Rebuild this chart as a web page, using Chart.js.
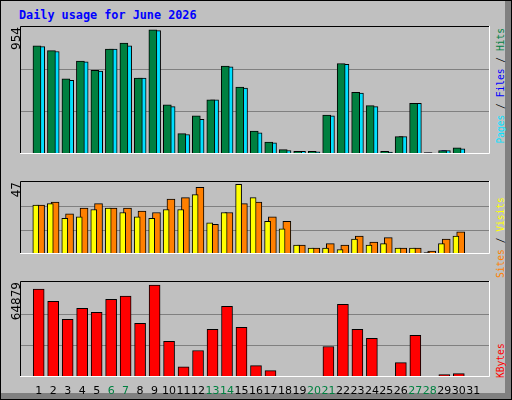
<!DOCTYPE html>
<html><head><meta charset="utf-8">
<script src="https://cdn.jsdelivr.net/npm/chart.js@4"></script>
<style>
html,body{margin:0;padding:0;}
#frame{position:relative;width:510px;height:398px;background:#C0C0C0;border:1px solid #000;overflow:hidden;}
#rb{position:absolute;right:0;top:0;width:6px;height:100%;background:#808080;}
#bb{position:absolute;left:0;bottom:0;height:6px;width:100%;background:#808080;}
canvas{position:absolute;}
.t{position:absolute;font-family:"DejaVu Sans Mono",monospace;}
.rot{position:absolute;transform:rotate(-90deg);transform-origin:left top;height:13px;line-height:13px;white-space:nowrap;}
</style></head><body>
<div id="frame">
<div id="rb"></div><div id="bb"></div>
<div class="t" style="left:18px;top:7px;font-size:11.8px;font-weight:bold;color:#0000FF;">Daily usage for June 2026</div>
<canvas id="c1" width="470" height="152" style="left:19px;top:25px"></canvas>
<canvas id="c2" width="470" height="97" style="left:19px;top:180px"></canvas>
<canvas id="c3" width="470" height="120" style="left:19px;top:280px"></canvas>
<div class="rot" style="left:8px;top:176px;width:150px;text-align:right;font:12px 'DejaVu Sans';">954</div>
<div class="rot" style="left:8px;top:276px;width:95px;text-align:right;font:12px 'DejaVu Sans';">47</div>
<div class="rot" style="left:8px;top:376px;width:95px;text-align:right;font:12px 'DejaVu Sans';">64879</div>
<div class="rot" style="left:494px;top:176px;width:149px;text-align:right;font:9.6px 'DejaVu Sans Mono';"><span style="color:#00E0FF">Pages</span> / <span style="color:#0000FF">Files</span> / <span style="color:#008040">Hits</span></div>
<div class="rot" style="left:494px;top:277px;width:95px;font:9.6px 'DejaVu Sans Mono';"><span style="color:#FF8000">Sites</span> / <span style="color:#FFFF00">Visits</span></div>
<div class="rot" style="left:494px;top:377px;width:95px;font:9.6px 'DejaVu Sans Mono';"><span style="color:#FF0000">KBytes</span></div>
</div>
<script>
const days = Array.from({length:31},(_, i)=>String(i+1));
const weekend = ["6","7","13","14","20","21","27","28"];
const hits  = [831,794,578,714,643,805,852,584,954,377,157,293,416,675,513,176,92,34,21,21,299,695,474,371,21,133,390,10,27,47,0];
const files = [824,787,565,707,636,805,831,584,947,364,150,267,416,669,507,163,86,27,21,16,293,688,468,364,14,133,390,8,27,40,0];
const pages = [794,760,545,690,620,780,805,565,920,350,145,255,405,650,490,155,80,25,18,14,285,670,455,350,12,128,380,6,24,37,0];
const visits= [33,34,24,25,30,31,28,25,24,30,30,40,21,28,47,38,22,17,6,4,4,3,10,6,7,4,4,1,7,12,0];
const sites = [33,35,27,31,34,31,31,29,28,37,38,45,20,28,34,35,25,22,6,4,7,6,12,8,11,4,4,2,10,15,0];
const kbytes= [62040,53510,40730,48540,45700,54930,57060,37880,64879,25100,7100,18700,33620,49960,35040,8050,4500,300,300,300,21550,51380,33620,27230,300,10180,29360,300,1650,2370,0];

const pts=(arr,off)=>arr.map((v,i)=>({x:i+1+off,y:v}));
const bevel={id:'bevel',afterDraw(c){const a=c.chartArea,x=c.ctx;x.save();x.lineWidth=1;
 x.strokeStyle='#000';x.beginPath();x.moveTo(a.left+0.5,a.bottom);x.lineTo(a.left+0.5,a.top+0.5);x.lineTo(a.right,a.top+0.5);x.stroke();
 x.strokeStyle='#fff';x.beginPath();x.moveTo(a.right-0.5,a.top);x.lineTo(a.right-0.5,a.bottom-0.5);x.lineTo(a.left,a.bottom-0.5);x.stroke();x.restore();}};
function mk(id,datasets,ymax,g,showX){
 return new Chart(document.getElementById(id),{type:'bar',data:{datasets},plugins:[bevel],
  options:{responsive:false,animation:false,devicePixelRatio:1,layout:{padding:0},grouped:false,
   plugins:{legend:{display:false},tooltip:{enabled:false}},
   scales:{
    x:{type:'linear',min:0.233,max:31.63,display:showX,grid:{display:false},border:{display:false},
       afterBuildTicks:s=>{s.ticks=days.map(d=>({value:+d}));},
       afterFit:s=>{s.height=24;},
       ticks:{autoSkip:false,maxRotation:0,padding:0,font:{family:'DejaVu Sans',size:11},
        callback:v=>String(v),color:c=>weekend.includes(String(c.tick.value))?'#008040':'#000'}},
    y:{min:0,max:ymax,grid:{color:'#808080',lineWidth:1,drawTicks:false},border:{display:false},
       afterBuildTicks:s=>{s.ticks=g.map(v=>({value:v}));},
       afterFit:s=>{s.width=0;},ticks:{display:false}}
   }}});
}
mk('c1',[
 {data:pts(hits,-0.12),backgroundColor:'#008040',borderColor:'#000',borderWidth:1,barThickness:8,order:1,grouped:false},
 {data:pts(pages,-0.08),backgroundColor:'#0000FF',borderColor:'#000',borderWidth:0,barThickness:4,order:2,grouped:false},
 {data:pts(files,0.14),backgroundColor:'#00E0FF',borderColor:'#000',borderWidth:1,barThickness:8,order:3,grouped:false}
],983,[324,649],false);
mk('c2',[
 {data:pts(visits,-0.2),backgroundColor:'#FFFF00',borderColor:'#000',borderWidth:1,barThickness:6,order:1,grouped:false},
 {data:pts(sites,0.13),backgroundColor:'#FF8000',borderColor:'#000',borderWidth:1,barThickness:8,order:2,grouped:false}
],49.2,[16,32],false);
mk('c3',[
 {data:pts(kbytes,0),backgroundColor:'#FF0000',borderColor:'#000',borderWidth:1,barThickness:11,grouped:false}
],67790,[22060,44120],true);
</script></body></html>
